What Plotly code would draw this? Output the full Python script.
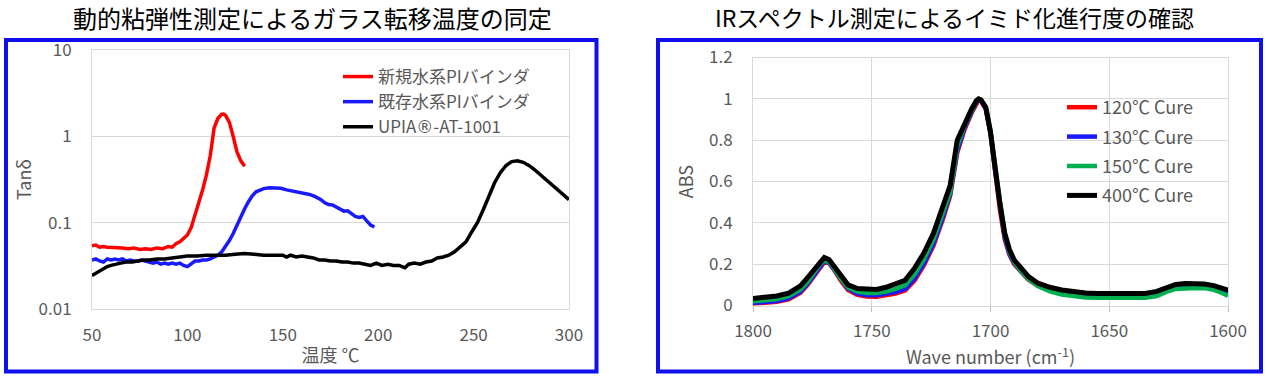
import plotly.graph_objects as go

W, H = 1267, 378

# ---------------- Left chart data (DMA tan delta) ----------------
new_pi_temp = [50, 52, 54, 56, 58, 60, 63, 66, 69, 72, 75, 78, 81, 84, 87, 90, 92, 94, 96, 98,
               100, 102, 104, 106, 108, 110, 112, 114, 116, 118, 119, 120, 122, 124, 126, 128, 130]
new_pi_tan = [0.054, 0.055, 0.052, 0.053, 0.052, 0.052, 0.051, 0.051, 0.050, 0.051, 0.049, 0.050,
              0.049, 0.051, 0.050, 0.053, 0.052, 0.057, 0.060, 0.066, 0.072, 0.088, 0.12, 0.165,
              0.24, 0.36, 0.60, 1.25, 1.62, 1.80, 1.81, 1.75, 1.45, 1.0, 0.66, 0.52, 0.45]

old_pi_temp = [50, 52, 54, 56, 58, 60, 62, 64, 66, 68, 70, 72, 74, 76, 78, 80, 82, 84, 86, 88, 90,
               92, 94, 96, 98, 100, 102, 104, 106, 108, 110, 112, 114, 116, 118, 120, 122, 124,
               126, 128, 130, 132, 134, 136, 138, 140, 143, 146, 149, 152, 155, 158, 161, 164,
               167, 170, 172, 174, 176, 178, 180, 182, 184, 186, 188, 190, 192, 194, 196, 198]
old_pi_tan = [0.037, 0.038, 0.036, 0.035, 0.038, 0.037, 0.038, 0.037, 0.038, 0.036, 0.037, 0.036,
              0.036, 0.037, 0.036, 0.035, 0.034, 0.035, 0.033, 0.034, 0.033, 0.034, 0.033, 0.034,
              0.032, 0.031, 0.033, 0.036, 0.036, 0.037, 0.037, 0.038, 0.040, 0.042, 0.046, 0.053,
              0.062, 0.075, 0.095, 0.120, 0.145, 0.175, 0.205, 0.228, 0.240, 0.248, 0.253, 0.254,
              0.250, 0.240, 0.232, 0.224, 0.218, 0.212, 0.200, 0.185, 0.170, 0.162, 0.160, 0.152,
              0.145, 0.136, 0.137, 0.128, 0.118, 0.115, 0.118, 0.105, 0.094, 0.089]

upia_temp = [50, 52, 54, 56, 58, 60, 62, 65, 68, 71, 74, 77, 80, 84, 88, 92, 96, 100, 105, 110,
             115, 120, 125, 130, 135, 140, 145, 150, 152, 154, 157, 160, 163, 166, 169, 172, 175,
             178, 181, 184, 187, 190, 193, 196, 199, 202, 205, 208, 211, 214, 216, 219, 222, 225,
             228, 231, 234, 237, 240, 243, 246, 249, 252, 255, 258, 261, 264, 267, 270, 273, 276,
             279, 282, 285, 288, 291, 294, 297, 300]
upia_tan = [0.0245, 0.026, 0.027, 0.029, 0.031, 0.032, 0.033, 0.034, 0.035, 0.035, 0.036, 0.037,
            0.037, 0.038, 0.038, 0.039, 0.040, 0.041, 0.041, 0.042, 0.042, 0.042, 0.043, 0.044,
            0.043, 0.042, 0.042, 0.042, 0.040, 0.042, 0.040, 0.041, 0.040, 0.039, 0.037, 0.037,
            0.036, 0.036, 0.035, 0.035, 0.034, 0.034, 0.033, 0.032, 0.034, 0.032, 0.033, 0.032,
            0.032, 0.030, 0.033, 0.034, 0.033, 0.035, 0.036, 0.039, 0.040, 0.042, 0.046, 0.052,
            0.060, 0.078, 0.10, 0.14, 0.20, 0.29, 0.38, 0.46, 0.51, 0.52, 0.50, 0.46, 0.41, 0.36,
            0.31, 0.27, 0.24, 0.21, 0.185]

left_names = ["新規水系PIバインダ", "既存水系PIバインダ",
              "UPIA<span style=\"font-family:'DejaVu Sans'\">®</span>-AT-1001"]
left_x_ticks = [50, 100, 150, 200, 250, 300]
left_y_ticks = [0.01, 0.1, 1, 10]
left_y_ticktext = ["0.01", "0.1", "1", "10"]

# ---------------- Right chart data (IR spectra) ----------------
wavenumber = [1800, 1795, 1790, 1785, 1780, 1777, 1774, 1772, 1770, 1768, 1766, 1763, 1760, 1756,
              1752, 1748, 1744, 1740, 1736, 1732, 1728, 1724, 1720, 1717, 1714, 1711, 1708, 1706,
              1705, 1704, 1702, 1700, 1698, 1696, 1694, 1692, 1690, 1687, 1684, 1680, 1675, 1670,
              1665, 1660, 1655, 1650, 1645, 1640, 1635, 1630, 1626, 1622, 1618, 1614, 1610, 1606,
              1603, 1600]
abs_120 = [0.008, 0.012, 0.018, 0.030, 0.062, 0.100, 0.150, 0.185, 0.210, 0.205, 0.175, 0.120,
           0.075, 0.052, 0.043, 0.042, 0.048, 0.058, 0.072, 0.120, 0.195, 0.290, 0.420, 0.530,
           0.740, 0.850, 0.930, 0.980, 0.995, 0.990, 0.950, 0.830, 0.640, 0.460, 0.320, 0.245,
           0.200, 0.160, 0.125, 0.095, 0.075, 0.062, 0.054, 0.049, 0.047, 0.046, 0.045, 0.045,
           0.048, 0.058, 0.078, 0.092, 0.096, 0.096, 0.095, 0.088, 0.076, 0.062]
abs_130 = [0.012, 0.016, 0.022, 0.035, 0.068, 0.106, 0.155, 0.190, 0.214, 0.208, 0.178, 0.125,
           0.082, 0.058, 0.050, 0.050, 0.055, 0.065, 0.080, 0.130, 0.205, 0.300, 0.430, 0.540,
           0.750, 0.860, 0.935, 0.985, 0.997, 0.990, 0.955, 0.835, 0.650, 0.470, 0.330, 0.250,
           0.205, 0.163, 0.128, 0.097, 0.076, 0.063, 0.055, 0.050, 0.048, 0.047, 0.046, 0.046,
           0.049, 0.060, 0.080, 0.094, 0.098, 0.098, 0.097, 0.090, 0.078, 0.063]
abs_150 = [0.020, 0.025, 0.031, 0.045, 0.078, 0.115, 0.163, 0.196, 0.218, 0.212, 0.182, 0.130,
           0.088, 0.067, 0.060, 0.061, 0.068, 0.080, 0.098, 0.150, 0.225, 0.320, 0.450, 0.550,
           0.770, 0.870, 0.940, 0.990, 1.000, 0.995, 0.960, 0.845, 0.665, 0.490, 0.345, 0.260,
           0.210, 0.165, 0.128, 0.094, 0.068, 0.053, 0.044, 0.039, 0.037, 0.036, 0.035, 0.035,
           0.037, 0.046, 0.066, 0.080, 0.085, 0.085, 0.084, 0.076, 0.063, 0.047]
abs_400 = [0.034, 0.040, 0.046, 0.060, 0.095, 0.135, 0.180, 0.210, 0.232, 0.222, 0.190, 0.140,
           0.100, 0.082, 0.077, 0.078, 0.088, 0.103, 0.122, 0.180, 0.255, 0.350, 0.480, 0.580,
           0.800, 0.880, 0.950, 0.990, 1.000, 0.995, 0.960, 0.840, 0.660, 0.490, 0.350, 0.270,
           0.220, 0.175, 0.140, 0.108, 0.088, 0.075, 0.066, 0.060, 0.058, 0.057, 0.055, 0.055,
           0.058, 0.068, 0.088, 0.102, 0.106, 0.105, 0.104, 0.096, 0.085, 0.074]
right_names = ["120℃ Cure", "130℃ Cure", "150℃ Cure", "400℃ Cure"]
right_x_ticks = [1800, 1750, 1700, 1650, 1600]

FONT = "Noto Sans CJK JP"
GRID = "#d9d9d9"
TXT = "#595959"


def px(x):
    return x / W


def py(y):
    return 1 - y / H


fig = go.Figure()

left_colors = ["#ff0000", "#1a1aff", "#000000"]
for name, xs, ys, c in zip(left_names, [new_pi_temp, old_pi_temp, upia_temp],
                           [new_pi_tan, old_pi_tan, upia_tan], left_colors):
    fig.add_trace(go.Scatter(x=xs, y=ys, name=name, mode="lines",
                             line=dict(color=c, width=3.5), xaxis="x", yaxis="y",
                             legend="legend", legendgroup=name))

right_colors = ["#ff0000", "#1a1aff", "#00b050", "#000000"]
right_widths = [4.5, 4.5, 4.5, 5]
for name, ys, c, w in zip(right_names, [abs_120, abs_130, abs_150, abs_400], right_colors,
                          right_widths):
    fig.add_trace(go.Scatter(x=wavenumber, y=ys, name=name, mode="lines",
                             line=dict(color=c, width=w), xaxis="x2", yaxis="y2",
                             legend="legend2", legendgroup=name))

fig.update_layout(
    width=W, height=H,
    margin=dict(l=0, r=0, t=0, b=0, autoexpand=False),
    paper_bgcolor="white", plot_bgcolor="white",
    font=dict(family=FONT, color=TXT, size=17),
    xaxis=dict(domain=[px(92), px(569)], range=[50, 300], tickvals=left_x_ticks,
               showgrid=False, zeroline=False, showline=True, mirror=True, linecolor=GRID,
               linewidth=1, ticks="", ticklabelstandoff=11, automargin=False,
               title=dict(text="温度 ℃", standoff=3, font=dict(size=18, color=TXT)),
               anchor="y", tickfont=dict(size=17, color=TXT)),
    yaxis=dict(domain=[py(309), py(50)], type="log", range=[-2, 1], tickvals=left_y_ticks,
               ticktext=left_y_ticktext, showgrid=True, gridcolor=GRID, zeroline=False,
               showline=True, mirror=True, linecolor=GRID, ticks="", ticklabelstandoff=16,
               automargin=False,
               title=dict(text="Tanδ", standoff=2, font=dict(size=18, color=TXT)),
               anchor="x", tickfont=dict(size=17, color=TXT)),
    xaxis2=dict(domain=[px(753), px(1228)], range=[1800, 1600], tickvals=right_x_ticks,
                showgrid=True, gridcolor=GRID, zeroline=False, showline=True, mirror=True,
                linecolor=GRID, ticks="outside", ticklen=5, tickcolor="#bfbfbf",
                ticklabelstandoff=5, automargin=False,
                title=dict(text="Wave number (cm<sup>-1</sup>)", standoff=2,
                           font=dict(size=18, color=TXT)),
                anchor="y2", tickfont=dict(size=17, color=TXT)),
    yaxis2=dict(domain=[py(305.5), py(57.5)], range=[0, 1.2], dtick=0.2, showgrid=True,
                gridcolor=GRID, zeroline=False, showline=True, mirror=True, linecolor=GRID,
                ticks="", ticklabelstandoff=16, automargin=False,
                title=dict(text="ABS", standoff=10, font=dict(size=18, color=TXT)),
                anchor="x2", tickfont=dict(size=17, color=TXT)),
    legend=dict(x=px(338), y=py(59), xanchor="left", yanchor="top", bgcolor="rgba(0,0,0,0)",
                font=dict(size=17, color=TXT), itemwidth=30, traceorder="grouped",
                tracegroupgap=0),
    legend2=dict(x=px(1062), y=py(89), xanchor="left", yanchor="top",
                 bgcolor="rgba(0,0,0,0)", font=dict(size=18, color=TXT), itemwidth=30,
                 traceorder="grouped", tracegroupgap=3),
    showlegend=True,
)

# Titles
fig.add_annotation(text="動的粘弾性測定によるガラス転移温度の同定", x=px(312), y=py(17),
                   xref="paper", yref="paper", showarrow=False, xanchor="center",
                   yanchor="middle", font=dict(size=24, color="#000000", family=FONT))
fig.add_annotation(text="IRスペクトル測定によるイミド化進行度の確認", x=px(954), y=py(17),
                   xref="paper", yref="paper", showarrow=False, xanchor="center",
                   yanchor="middle", font=dict(size=23, color="#000000", family=FONT))

# Blue frames
BLUE = "#1010ee"
fig.add_shape(type="rect", xref="paper", yref="paper", x0=px(6), x1=px(596.5),
              y0=py(371.5), y1=py(40), line=dict(color=BLUE, width=4), layer="above")
fig.add_shape(type="rect", xref="paper", yref="paper", x0=px(658), x1=px(1261),
              y0=py(371.5), y1=py(40), line=dict(color=BLUE, width=4), layer="above")

fig.write_html("out.html", config={"displayModeBar": False},
               post_script="document.body.style.margin='0px';"
                           "document.body.style.overflow='hidden';")
